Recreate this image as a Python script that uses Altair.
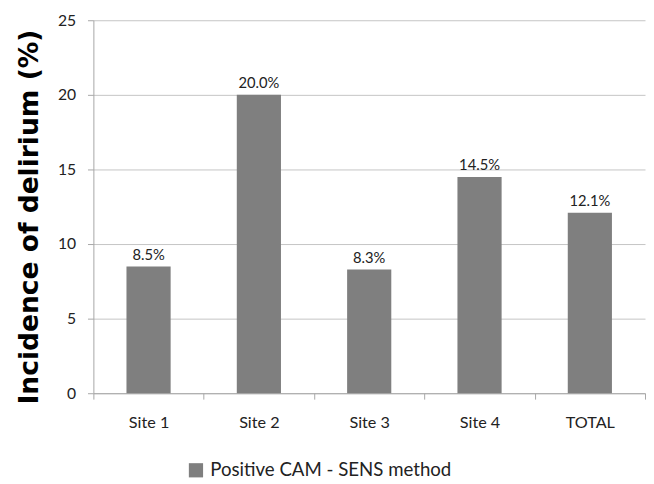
import altair as alt
import pandas as pd

sites = ["Site 1", "Site 2", "Site 3", "Site 4", "TOTAL"]
values = [8.5, 20.0, 8.3, 14.5, 12.1]
labels = ["8.5%", "20.0%", "8.3%", "14.5%", "12.1%"]
series = "Positive CAM - SENS method"

df = pd.DataFrame({"site": sites, "value": values, "label": labels, "series": [series] * len(sites)})

FONT = "Lato"
AX = "#a6a6a6"

x = alt.X(
    "site:N", sort=sites, title=None,
    scale=alt.Scale(paddingInner=0, paddingOuter=0),
    axis=alt.Axis(labelAngle=0, tickBand="extent", labelFont=FONT, labelFontSize=16.5,
                  labelColor="#222222", labelPadding=16, tickSize=6, tickColor=AX,
                  domainColor=AX, grid=False),
)
y = alt.Y(
    "value:Q", scale=alt.Scale(domain=[0, 25], nice=False),
    axis=alt.Axis(values=[0, 5, 10, 15, 20, 25], title="Incidence of delirium (%)",
                  titleFont="DejaVu Sans", titleFontSize=27, titleFontWeight="bold",
                  titleColor="#000000", titlePadding=14, titleY=200,
                  labelFont=FONT, labelFontSize=16, labelColor="#222222",
                  labelPadding=12, tickSize=6, tickColor=AX, domainColor=AX, gridColor="#c4c4c4"),
)

bars = alt.Chart(df).mark_bar(size=45).encode(
    x=x, y=y,
    color=alt.Color("series:N", scale=alt.Scale(range=["#7f7f7f"]),
                    legend=alt.Legend(title=None, orient="none", legendX=95, legendY=449,
                                      symbolType="square", symbolSize=210, symbolStrokeWidth=0,
                                      labelFont=FONT, labelFontSize=19, labelColor="#222222",
                                      labelOffset=5, labelLimit=400)),
)
text = alt.Chart(df).mark_text(dy=-7, baseline="alphabetic", font=FONT, fontSize=15,
                               color="#222222").encode(
    x=alt.X("site:N", sort=sites), y=alt.Y("value:Q"), text="label:N"
)

chart = (bars + text).properties(
    width=562, height=380,
    padding={"left": 8, "top": 0, "right": 0, "bottom": 0},
).configure_view(stroke=None)

chart.save("out.html", embed_options={"renderer": "svg", "actions": False})
